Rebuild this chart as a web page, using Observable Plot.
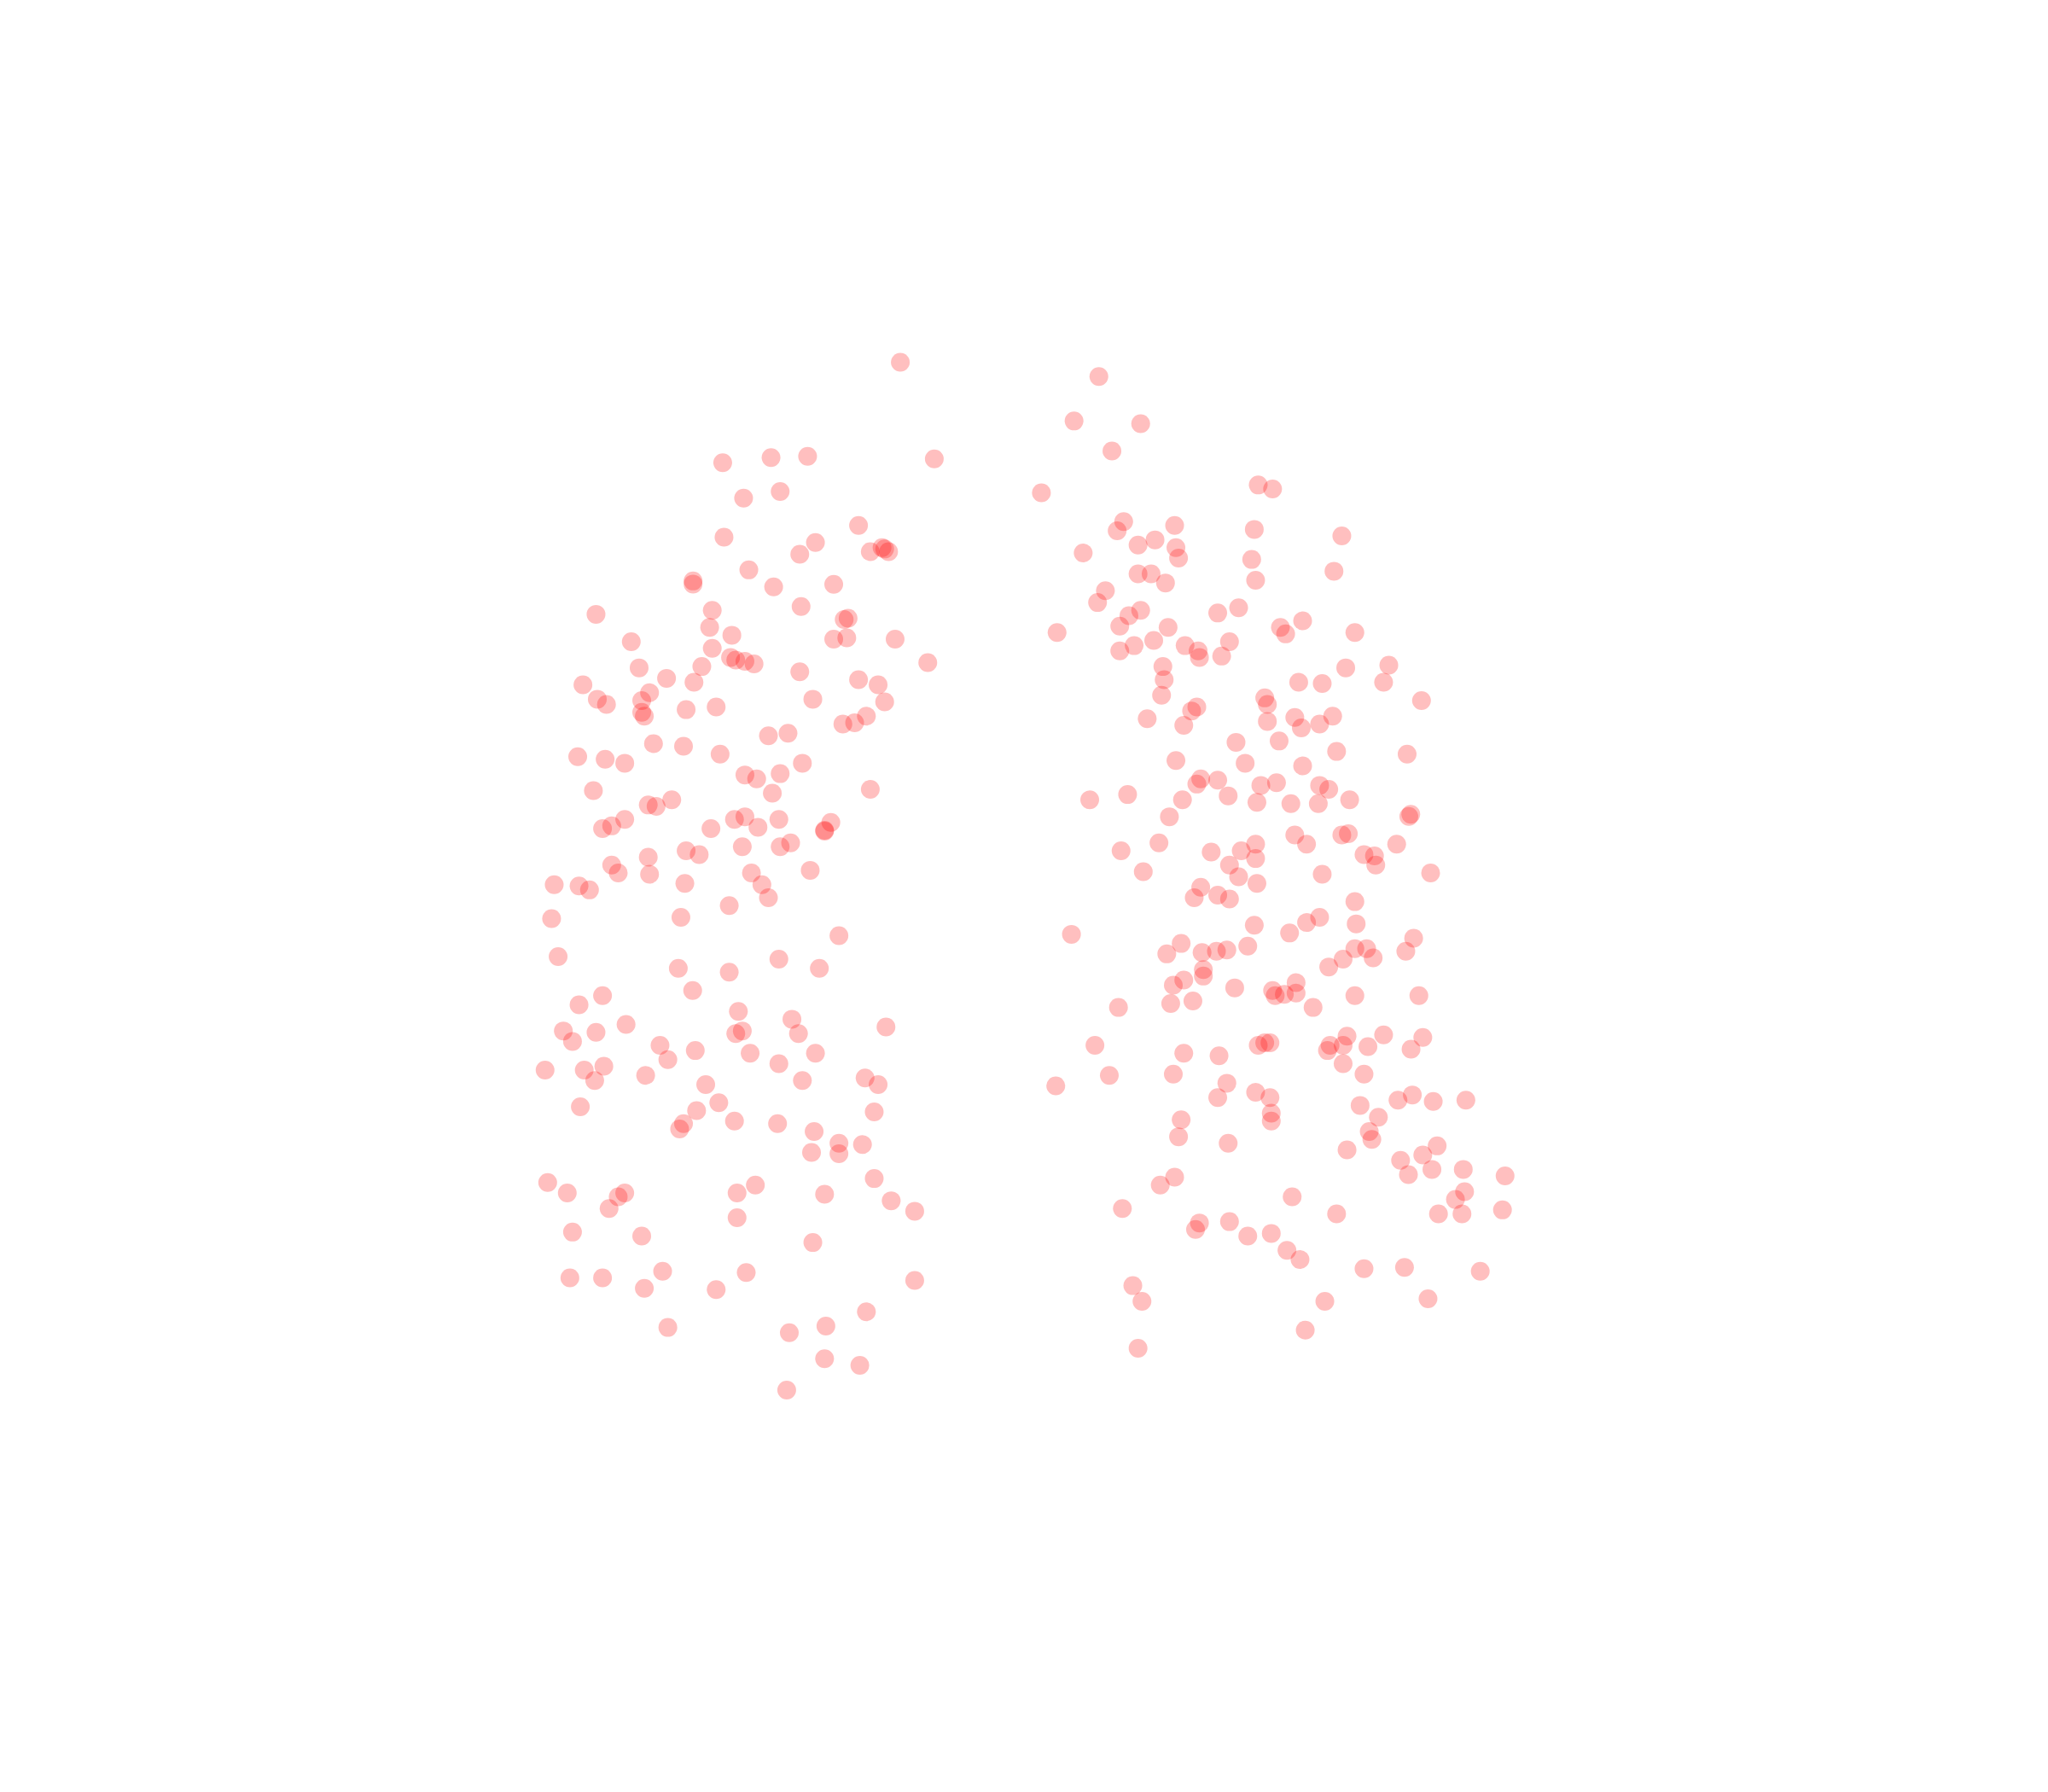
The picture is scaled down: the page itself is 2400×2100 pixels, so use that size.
<!DOCTYPE html>
<html><head><meta charset="utf-8">
<style>html,body{margin:0;padding:0;background:#fff}svg{display:block}</style>
<script src="https://cdn.jsdelivr.net/npm/d3@7"></script>
<script src="https://cdn.jsdelivr.net/npm/@observablehq/plot@0.6"></script>
</head><body><div id="chart"></div>
<script>
const leftLobe = [[689,277],[715,351],[553,354],[590,350],[618,349],[569,381],[597,376],[657,402],[554,411],[624,415],[612,424],[666,422],[675,419],[677,420],[680,422],[573,436],[530.3,444.5],[530.3,446.8],[592,449],[638,447],[613,464],[545,467],[456,470],[543,480],[646,474],[649,473],[560,486],[483,491],[545,496],[638,489],[648,488],[685,489],[559,503],[563,505],[570,506],[577,508],[537,510],[489,511],[612,514],[710,507],[510,519],[531,522],[446,524],[657,520],[672,524],[497,530],[457,535],[491,536],[464,539],[622,535],[677,537],[525,543],[548,541],[491,545],[493,548],[663,548],[645,554],[654,553],[588,563],[603,561],[500,569],[523,571],[442,579],[463,581],[478,584],[551,577],[614,584],[570,593],[579,596],[597,592],[454,605],[591,607],[666,604],[514,612],[496,616],[502,617],[478,627],[468,632],[461,634],[544,634],[562,627],[570,625],[580,633],[596,627],[635.8,629.3],[631,635.4],[631,636],[568,648],[597,648],[605,645],[525,651],[535,654],[496,656],[468,662],[473,668],[497,669],[575,668],[620,666],[424,677],[443,678],[451,681],[524,676],[583,677],[588,687],[558,693],[422,703],[521,702],[642,716],[427,732],[596,734],[519,741],[558,744],[627,741],[530,758],[461,762],[443,769],[565,774],[479,784],[606,780],[678,786],[431,789],[456,790],[438,797],[563,791],[568,789],[611,791],[505,800],[532,804],[574,806],[624,806],[511,811],[596,814],[417,819],[447,819],[462,816],[494,823],[455,827],[540,830],[614,827],[662,825],[672,830],[444,847],[550,844],[533,850],[669,851],[562,858],[595,860],[523,860],[520,864],[623,866],[642,875],[660,876],[621,882],[642,883],[419,905],[434,913],[478,913],[473,916],[466,925],[564,913],[578,907],[631,914],[669,902],[682,919],[700,927],[564,932],[438,943],[491,946],[622,951],[436,978],[461,978],[507,973],[493,986],[548,987],[571,974],[700,980],[663,1004],[511,1016],[604,1020],[632,1015],[631,1040],[658,1045],[602,1064]];
const rightLobe = [[841,288],[822,322],[873,324],[851,345],[797,377],[963,371],[974,374],[860,399],[855,406],[899,402],[960,405],[1027,410],[884,413],[871,417],[900,419],[902,427],[829,423],[958,428],[1021,437],[871,439],[881,439],[892,446],[961,444],[846,452],[840,461],[873,467],[864,471],[857,479],[932,469],[948,465],[980,480],[997,475],[984,485],[1037,484],[809,484],[894,480],[883,490],[868,494],[857,498],[907,494],[917,498],[918,503],[935,502],[941,491],[890,510],[891,520],[1030,511],[1063,509],[994,522],[1012,523],[1059,522],[889,532],[968,534],[970,539],[1088,536],[916,541],[912,544],[878,550],[906,555],[970,552],[991,549],[1020,548],[1010,554],[996,557],[946,568],[979,567],[1023,575],[1077,577],[900,582],[953,584],[997,586],[919,596],[916,600],[932,597],[965,601],[977,599],[1010,601],[1017,604],[834,612],[863,608],[905,612],[940,609],[962,614],[988,615],[1009,615],[1033,612],[1079.8,623.1],[1078.3,624.7],[895,625],[887,645],[991,639],[1027,639],[1032,638],[1000,646],[1069,646],[858,651],[927,652],[950,651],[961,646],[961,657],[1044,654],[1052,655],[1053,662],[941,662],[875,667],[948,671],[1012,669],[1095,668],[962,676],[919,679],[914,687],[932,685],[941,688],[1037,690],[1010,702],[1000,706],[960,708],[1038,707],[987,714],[820,715],[904,722],[955,724],[1082,718],[893,730],[920,729],[931,728],[939,727],[1037,726],[1046,726],[1076,728],[1028,734],[1051,733],[1017,740],[921,742],[921,747],[906,750],[898,754],[945,756],[992,752],[974,758],[976,762],[983,761],[992,760],[1037,762],[1086,762],[896,768],[913,766],[856,771],[1005,771],[963,800],[968,798],[972,798],[1031,793],[1059,792],[1089,794],[1018,800],[1016,804],[1028,800],[1047,801],[1080,803],[838,800],[906,806],[933,808],[1028,814],[898,822],[849,823],[1044,822],[939,829],[808,831],[961,836],[972,840],[932,840],[1070,842],[1081,838],[1097,843],[1122,842],[1041,846],[973,852],[973,858],[1055,855],[904,857],[1048,866],[902,870],[1050,872],[940,875],[1031,880],[1100,877],[1089,884],[1072,888],[1078,899],[1096,895],[1120,895],[1152,900],[899,901],[888,907],[1121,912],[1114,918],[989,916],[859,925],[1023,929],[1101,929],[1119,929],[1150,926],[918,936],[915,941],[941,935],[955,946],[973,944],[985,957],[995,964],[1044,971],[1075,970],[1133,973],[867,984],[874,996],[1014,996],[1093,994],[999,1018],[871,1032]];
const points = leftLobe.concat(rightLobe);
const chart = Plot.plot({
  width: 2400, height: 2100,
  marginTop: 0, marginRight: 0, marginBottom: 0, marginLeft: 0,
  x: {domain: [0, 1568], range: [0, 2400], axis: null},
  y: {domain: [0, 1372], range: [0, 2100], axis: null},
  marks: [
    Plot.dot(points, {x: d => d[0], y: d => d[1], r: 11, fill: "#ff0000", fillOpacity: 0.25, stroke: "none"})
  ]
});
document.getElementById("chart").appendChild(chart);
</script></body></html>
